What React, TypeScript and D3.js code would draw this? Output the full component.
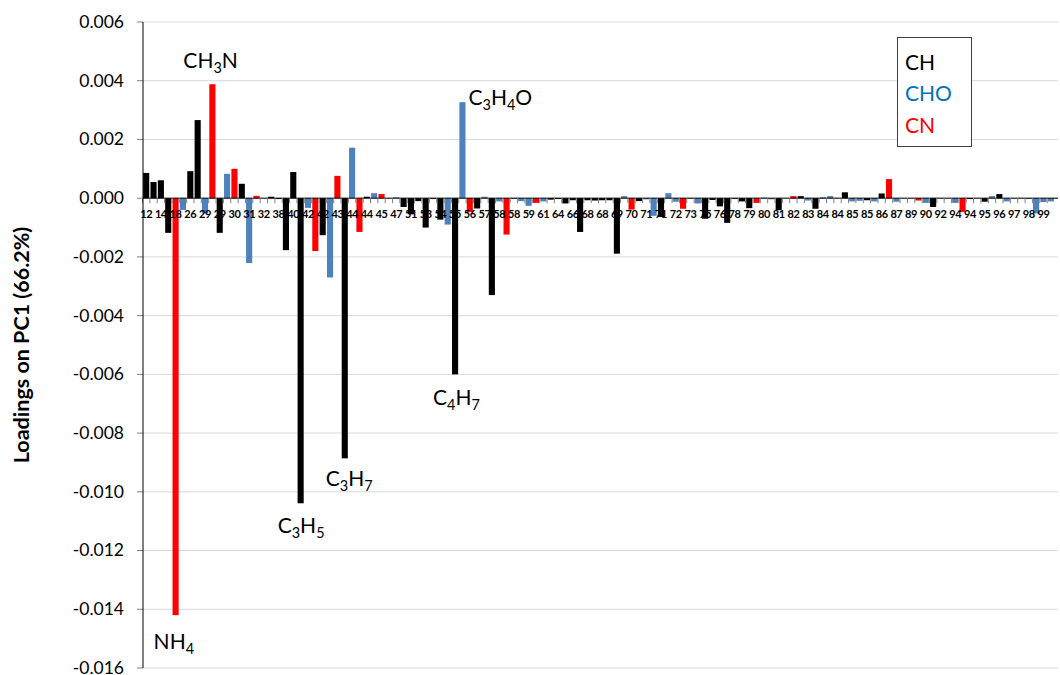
import React from "react";
import * as d3 from "d3";

// ---------- data ----------
const massLabels = [
  "12","13","14","15","18","19","26","27","29","29","29","30","30","31","31","32",
  "32","37","38","39","40","41","42","42","42","43","43","43","44","44","44","45",
  "45","46","47","50","51","52","53","53","54","55","55","56","56","57","57","57",
  "58","58","58","59","59","60","61","62","64","65","66","67","68","68","68","69",
  "69","70","70","71","71","71","71","72","72","72","73","74","75","75","76","77",
  "78","79","79","80","80","81","81","82","82","83","83","83","84","84","84","85",
  "85","85","85","86","86","87","87","88","89","89","90","91","92","93","94","94",
  "94","95","95","95","96","96","97","97","98","98","99","99"
];

const families = [
  "CH","CH","CH","CH","CN","CHO","CH","CH","CHO","CN","CH","CHO","CN","CH","CHO","CN",
  "CH","CH","CH","CH","CH","CH","CHO","CN","CH","CHO","CN","CH","CHO","CN","CH","CHO",
  "CN","CH","CHO","CH","CH","CH","CH","CN","CH","CHO","CH","CHO","CN","CH","CHO","CH",
  "CHO","CN","CHO","CHO","CHO","CN","CHO","CH","CH","CH","CH","CH","CH","CH","CH","CH",
  "CH","CHO","CN","CH","CHO","CHO","CH","CHO","CHO","CN","CHO","CHO","CH","CH","CH","CH",
  "CN","CH","CH","CN","CHO","CHO","CH","CH","CN","CH","CHO","CH","CHO","CHO","CH","CH",
  "CHO","CHO","CH","CHO","CH","CN","CHO","CH","CH","CN","CHO","CH","CH","CH","CHO","CN",
  "CH","CH","CH","CHO","CH","CHO","CH","CH","CHO","CHO","CHO","CHO"
];

const loadings = [
  0.00086, 0.00055, 0.00061, -0.00118, -0.0142, -0.0004, 0.00092, 0.00266,
  -0.00052, 0.00388, -0.00118, 0.00083, 0.001, 0.00049, -0.00221, 0.00008,
  0, 0.00005, -0.00003, -0.00177, 0.00089, -0.01039, -0.00033, -0.0018,
  -0.00126, -0.0027, 0.00076, -0.00886, 0.00172, -0.00115, 0.00005, 0.00017,
  0.00014, 0, 0.00003, -0.0003, -0.00055, -0.0001, -0.001, -0.00003,
  -0.00073, -0.0009, -0.006, 0.00327, -0.00047, -0.00035, 0.00005, -0.0033,
  -0.00011, -0.00124, -0.00003, -0.0001, -0.00026, -0.00016, -0.00011, -0.00005,
  -0.00003, -0.00018, -0.00007, -0.00115, -0.00007, -0.00008, -0.00007, -0.00007,
  -0.00189, 0.00007, -0.00039, -0.0001, -0.00004, -0.0006, -0.00064, 0.00017,
  -0.00012, -0.00036, -0.00002, -0.00018, -0.0007, -0.00006, -0.00028, -0.00084,
  -0.00003, -0.00011, -0.00034, -0.00016, 0.00002, -0.00004, -0.00041, 0,
  0.00007, 0.00007, -0.00008, -0.00036, 0.00003, 0.00007, 0, 0.0002,
  -0.00011, -0.00009, -0.00007, -0.00011, 0.00016, 0.00065, -0.00012, 0,
  0, -0.00008, -0.00016, -0.0003, 0, 0, -0.00016, -0.00047,
  -0.00003, 0, -0.00012, 0.00007, 0.00014, -0.00011, 0, 0,
  -0.00003, -0.00052, -0.00013, -0.00011
];

const yTicks = [0.006, 0.004, 0.002, 0, -0.002, -0.004, -0.006, -0.008, -0.01, -0.012, -0.014, -0.016];

const legendItems = ["CH", "CHO", "CN"];

const annotations = [
  { idx: 9, parts: [["C", false], ["H", false], ["3", true], ["N", false]] },
  { idx: 4, parts: [["N", false], ["H", false], ["4", true]] },
  { idx: 21, parts: [["C", false], ["3", true], ["H", false], ["5", true]] },
  { idx: 27, parts: [["C", false], ["3", true], ["H", false], ["7", true]] },
  { idx: 42, parts: [["C", false], ["4", true], ["H", false], ["7", true]] },
  { idx: 43, parts: [["C", false], ["3", true], ["H", false], ["4", true], ["O", false]] },
];
// ---------- end data ----------

const barColor: Record<string, string> = { CH: "#000000", CHO: "#4F81BD", CN: "#FF0000" };
const textColor: Record<string, string> = { CH: "#000000", CHO: "#0070C0", CN: "#FF0000" };
const FONT = "Lato, 'Open Sans', 'Liberation Sans', sans-serif";

const W = 1060, H = 675;
const plotLeft = 143, plotRight = 1058, plotTop = 22, plotBottom = 668;

export default function App() {
  const x = d3.scaleBand<number>()
    .domain(loadings.map((_, i) => i))
    .range([142.5, 1054.5])
    .paddingInner(0.17)
    .paddingOuter(0.085);
  const y = d3.scaleLinear().domain([-0.016, 0.006]).range([plotBottom, plotTop]);
  const y0 = y(0);
  const bw = x.bandwidth();
  const step = x.step();

  const annPos: Record<number, { dx: number; dy: number }> = {
    9: { dx: -29, dy: -16 },
    4: { dx: -22, dy: 34 },
    21: { dx: -23, dy: 30 },
    27: { dx: -19, dy: 28 },
    42: { dx: -22, dy: 31 },
    43: { dx: 6, dy: 3 },
  };

  return (
    <svg width={W} height={H} style={{ position: "absolute", left: 0, top: 0, background: "#fff" }}
      fontFamily={FONT}>
      <rect x={0} y={0} width={W} height={H} fill="#fff" />
      {yTicks.map((t) => (
        <line key={"g" + t} x1={plotLeft} x2={plotRight} y1={y(t)} y2={y(t)}
          stroke="#D9D9D9" strokeWidth={1} />
      ))}
      {yTicks.map((t) => (
        <g key={"yt" + t}>
          <line x1={137} x2={plotLeft} y1={y(t)} y2={y(t)} stroke="#808080" strokeWidth={1} />
          <text x={124} y={y(t)} dy="0.34em" textAnchor="end" fontSize={17.5} fill="#000">
            {d3.format(".3f")(t).replace("−", "-")}
          </text>
        </g>
      ))}
      {loadings.map((v, i) => (
        <rect key={"b" + i} x={x(i)!} width={bw}
          y={Math.min(y(v), y0)} height={Math.abs(y(v) - y0)}
          fill={barColor[families[i]]} />
      ))}
      <line x1={plotLeft} x2={plotRight} y1={y0} y2={y0} stroke="#000" strokeWidth={1} />
      {loadings.map((_, i) => (
        <line key={"xt" + i} x1={x(i)! - (step - bw) / 2} x2={x(i)! - (step - bw) / 2}
          y1={y0} y2={y0 + 5} stroke="#808080" strokeWidth={1} />
      ))}
      {massLabels.map((lab, i) =>
        i % 2 === 0 ? (
          <text key={"xl" + i} x={x(i)! + bw / 2} y={y0 + 19.5} textAnchor="middle"
            fontSize={11} letterSpacing={-0.4} fontWeight="bold" fill="#000">{lab}</text>
        ) : null
      )}
      <line x1={plotLeft} x2={plotLeft} y1={plotTop} y2={plotBottom} stroke="#000" strokeWidth={1} />
      <text transform={`translate(29,${(plotTop + plotBottom) / 2}) rotate(-90)`} textAnchor="middle"
        fontSize={21.5} fontWeight="bold" fill="#000">Loadings on PC1 (66.2%)</text>
      {annotations.map((a) => {
        const p = annPos[a.idx];
        const v = loadings[a.idx];
        const bx = x(a.idx)! + bw / 2 + p.dx;
        const by = y(v) + p.dy;
        let shifted = false;
        return (
          <text key={"an" + a.idx} x={bx} y={by} fontSize={21} fill="#000">
            {a.parts.map(([s, sub], j) => {
              let dy = 0;
              if (sub && !shifted) { dy = 5; shifted = true; }
              else if (!sub && shifted) { dy = -5; shifted = false; }
              return (
                <tspan key={j} dy={dy} fontSize={sub ? 14.5 : 21}>{s as string}</tspan>
              );
            })}
          </text>
        );
      })}
      <rect x={897.5} y={37.5} width={74} height={109} fill="#fff" stroke="#404040" strokeWidth={1} />
      {legendItems.map((l, i) => (
        <text key={"lg" + l} x={905} y={69.5 + i * 31.5} fontSize={21} fill={textColor[l]}>{l}</text>
      ))}
    </svg>
  );
}
